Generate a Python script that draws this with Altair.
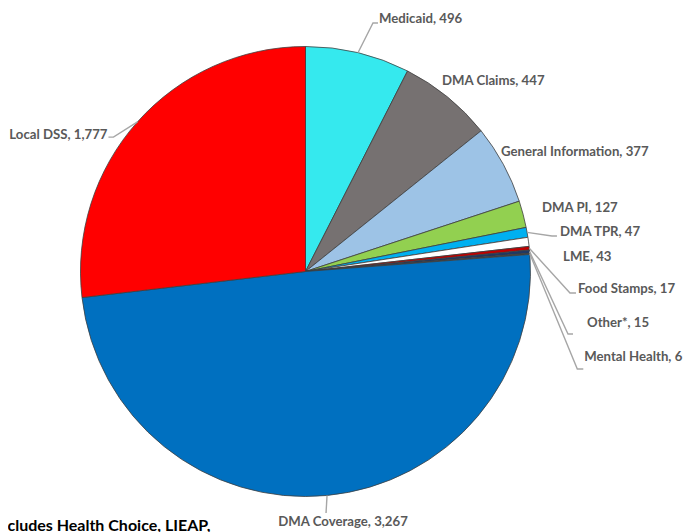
import math
import altair as alt
import pandas as pd

# ---- data ----
categories = ["Medicaid", "DMA Claims", "General Information", "DMA PI", "DMA TPR",
              "LME", "Food Stamps", "Other*", "Mental Health", "DMA Coverage", "Local DSS"]
values = [496, 447, 377, 127, 47, 43, 17, 15, 6, 3267, 1777]
footnote = "*Includes Health Choice, LIEAP,"

# ---- styles / label layout ----
colors = ["#35E9EE", "#767171", "#9DC3E6", "#92D050", "#00B0F0", "#FFFFFF",
          "#C00000", "#1F3864", "#404040", "#0070C0", "#FF0000"]
label_dx = [21, -5.5, -2.3, 18.9, 32.9, 34.5, 48.7, 57.4, 54.5, 16, -30]
label_dy = [-33.7, -16, -12.3, -6.2, -0.4, 15.2, 40.8, 71.4, 103.2, 26.5, 13.2]
label_align = ["left"] * 9 + ["center", "right"]
leader_ex = [-6, None, None, None, -8, None, -8, -19, -7, -17, 6]
leader_ey = [4, None, None, None, 4, None, 4, 11, 12, -9, 2]
leader_tick = [5, 0, 0, 0, 5, 0, 6, 5, 6, 0, -5]

FONT = "Lato, Liberation Sans, sans-serif"
W, H = 676, 524
CX, CY, R = 297.5, 263.5, 225

total = sum(values)
rows = []
cum = 0
for i, (c, v) in enumerate(zip(categories, values)):
    mid = (cum + v / 2) / total * 2 * math.pi
    cum += v
    ex_ = CX + R * math.sin(mid)
    ey_ = CY - R * math.cos(mid)
    rows.append(dict(idx=i, category=c, value=v, label=f"{c}, {v:,}",
                     edge_x=ex_, edge_y=ey_,
                     lx=ex_ + label_dx[i], ly=ey_ + label_dy[i],
                     align=label_align[i]))
df = pd.DataFrame(rows)

lead_rows = []
for r in rows:
    i = r["idx"]
    if leader_ex[i] is None:
        continue
    bx = r["lx"] + leader_ex[i]
    by = r["ly"] + leader_ey[i]
    pts = [(r["edge_x"], r["edge_y"]), (bx, by), (bx + leader_tick[i], by)]
    for k, (px, py) in enumerate(pts):
        lead_rows.append(dict(category=r["category"], step=k, x=px, y=py))
lead_df = pd.DataFrame(lead_rows)

pie = alt.Chart(df).mark_arc(outerRadius=R, stroke="#3F3F3F", strokeWidth=0.8).encode(
    theta=alt.Theta("value:Q", stack=True),
    order=alt.Order("idx:Q"),
    color=alt.Color("category:N", scale=alt.Scale(domain=categories, range=colors), legend=None),
    x=alt.value(CX),
    y=alt.value(CY),
)

leaders = alt.Chart(lead_df).mark_line(color="#A6A6A6", strokeWidth=1.4).encode(
    x=alt.X("x:Q", scale=None, axis=None),
    y=alt.Y("y:Q", scale=None, axis=None),
    detail="category:N",
    order="step:Q",
)


def label_layer(al):
    return alt.Chart(df).transform_filter(alt.datum.align == al).mark_text(
        align=al, baseline="middle", font=FONT, fontSize=13.2, fontWeight="bold", color="#595959"
    ).encode(
        x=alt.X("lx:Q", scale=None, axis=None),
        y=alt.Y("ly:Q", scale=None, axis=None),
        text="label:N",
    )


labels = [label_layer(a) for a in ["left", "center", "right"]]

foot = alt.Chart(pd.DataFrame({"t": [footnote]})).mark_text(
    align="left", baseline="alphabetic", font=FONT, fontSize=16, fontWeight="bold", color="#000000"
).encode(text="t:N", x=alt.value(-21), y=alt.value(523))

chart = alt.layer(pie, leaders, *labels, foot).properties(
    width=W, height=H, autosize=alt.AutoSizeParams(type="none"), padding=0, background="white"
).configure_view(stroke=None)

chart.save("out.html", embed_options={"renderer": "svg", "actions": False})
